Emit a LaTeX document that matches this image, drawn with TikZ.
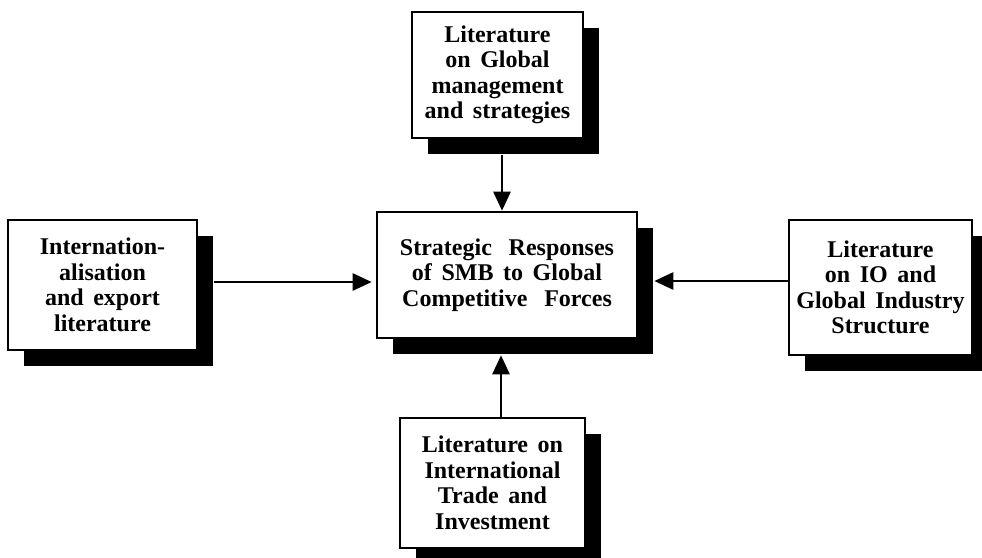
\documentclass[tikz,border=0pt]{standalone}
\usepackage{fontspec}
\setmainfont{Liberation Serif}
\usetikzlibrary{arrows.meta,shadows}
\newcommand{\gap}{\hspace{0.7em}}
\newcommand{\boxfont}{\bfseries\fontsize{24}{25.5}\selectfont\spaceskip=0.4em plus 0.1em\relax}
\begin{document}
\begin{tikzpicture}[x=1pt,y=-1pt,
  litbox/.style={draw=black, line width=2.6pt, fill=white, align=center,
    font=\boxfont, inner sep=0pt,
    drop shadow={shadow xshift=16pt, shadow yshift=-16pt, fill=black, opacity=1}},
  arr/.style={line width=2.6pt, -{Triangle[length=19pt,width=17pt]}}]
\useasboundingbox (0,0) rectangle (982,557);

% centre box
\node[litbox, minimum width=260pt, minimum height=126pt] (c) at (507,275)
  {Strategic\gap Responses\\ of SMB to Global\\ Competitive\gap Forces};

% surrounding literature boxes
\node[litbox, minimum width=171pt, minimum height=126pt] (t) at (497.5,75)
  {Literature\\ on Global\\ management\\ and strategies};
\node[litbox, minimum width=189pt, minimum height=130pt] (l) at (102.5,285)
  {Internation-\\ alisation\\ and export\\ literature};
\node[litbox, minimum width=183pt, minimum height=135pt] (r) at (880.5,287.5)
  {Literature\\ on IO and\\ Global Industry\\ Structure};
\node[litbox, minimum width=185pt, minimum height=130pt] (b) at (492.5,483)
  {Literature on\\ International\\ Trade and\\ Investment};

% connectors into the centre box
\coordinate (rin) at ([yshift=6.5pt]r.west);
\coordinate (lin) at ([yshift=3pt,xshift=16pt]l.east);
\draw[arr] ([xshift=4.5pt,yshift=-16pt]t.south) -- ([xshift=-5pt]c.north);
\draw[arr] (lin) -- ([xshift=-4pt]c.west |- lin);
\draw[arr] (rin) -- ([xshift=16pt]c.east |- rin);
\draw[arr] ([xshift=8.5pt]b.north) -- ([xshift=-6pt,yshift=-16pt]c.south);
\end{tikzpicture}
\end{document}
